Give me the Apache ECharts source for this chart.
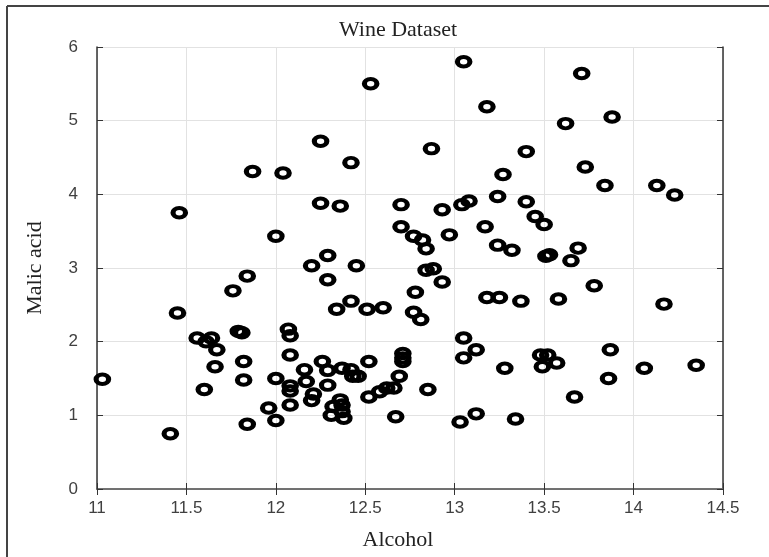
<!DOCTYPE html>
<html>
<head>
<meta charset="utf-8">
<script src="https://cdn.jsdelivr.net/npm/echarts@6/dist/echarts.min.js"></script>
<style>
html,body{margin:0;padding:0;background:#fff;}
#chart{width:769px;height:557px;}
</style>
</head>
<body>
<div id="chart"></div>
<script>
const chartTitle = 'Wine Dataset';
const xLabel = 'Alcohol';
const yLabel = 'Malic acid';
const xTicks = [11, 11.5, 12, 12.5, 13, 13.5, 14, 14.5];
const yTicks = [0, 1, 2, 3, 4, 5, 6];

// Alcohol values
const alcohol = [
  12.53,12.25,12.42,11.87,12.04,12.25,12.36,11.46,12.00,12.29,12.20,12.45,11.84,12.29,
  13.05,13.71,13.18,13.62,13.88,12.87,13.40,13.27,13.73,13.84,14.13,14.23,
  12.70,12.93,13.04,13.08,13.24,13.40,13.45,13.50,12.70,12.77,12.82,12.84,12.97,13.17,13.24,13.32,13.51,13.53,13.65,13.69,12.84,12.88,12.93,
  12.78,12.60,12.77,12.81,13.18,13.25,13.37,13.58,13.78,14.17,
  13.05,13.12,13.05,12.71,12.71,12.71,12.69,12.62,12.66,12.58,12.85,12.67,13.03,13.12,13.34,13.28,13.48,13.52,13.49,13.57,13.67,13.87,13.86,14.06,14.35,
  11.03,11.41,11.45,11.76,11.56,11.61,11.64,11.67,11.66,11.60,11.79,11.81,11.82,11.82,11.84,11.96,12.00,12.00,12.07,12.08,12.08,12.08,12.08,12.08,
  12.16,12.17,12.21,12.20,12.26,12.29,12.29,12.34,12.42,12.51,12.37,12.42,12.43,12.46,12.52,12.52,12.32,12.31,12.36,12.37,12.37,12.38
];
// Malic acid values
const malicAcid = [
  5.50,4.72,4.43,4.31,4.29,3.88,3.84,3.75,3.43,3.17,3.03,3.03,2.89,2.84,
  5.80,5.64,5.19,4.96,5.05,4.62,4.58,4.27,4.37,4.12,4.12,3.99,
  3.86,3.79,3.86,3.91,3.97,3.90,3.70,3.59,3.56,3.43,3.38,3.26,3.45,3.56,3.31,3.24,3.16,3.18,3.10,3.27,2.97,2.99,2.81,
  2.67,2.46,2.40,2.30,2.60,2.60,2.55,2.58,2.76,2.51,
  2.05,1.89,1.78,1.84,1.78,1.73,1.53,1.37,1.37,1.32,1.35,0.98,0.91,1.02,0.95,1.64,1.82,1.82,1.66,1.71,1.25,1.89,1.50,1.64,1.68,
  1.49,0.75,2.39,2.69,2.05,2.00,2.05,1.89,1.66,1.35,2.14,2.12,1.73,1.48,0.88,1.10,1.50,0.93,2.17,2.08,1.82,1.40,1.33,1.14,
  1.62,1.46,1.29,1.20,1.73,1.61,1.41,2.44,2.55,2.44,1.64,1.62,1.53,1.53,1.73,1.25,1.12,1.00,1.21,1.14,1.05,0.96
];

const points = alcohol.map((a, i) => [a, malicAcid[i]]);

const chart = echarts.init(document.getElementById('chart'), null, {renderer: 'canvas'});
const labelFont = {fontFamily: 'Liberation Sans', fontSize: 17, color: '#404040'};
const serif = 'Liberation Serif';

chart.setOption({
  animation: false,
  backgroundColor: '#fff',
  title: [
    {text: chartTitle, left: 393, top: 14, textAlign: 'center',
     textStyle: {fontFamily: serif, fontSize: 22, fontWeight: 'normal', color: '#222'}},
    {text: xLabel, left: 393, top: 524, textAlign: 'center',
     textStyle: {fontFamily: serif, fontSize: 22, fontWeight: 'normal', color: '#222'}}
  ],
  graphic: [
    {type: 'line', shape: {x1: 7, y1: 6, x2: 769, y2: 6}, style: {stroke: '#444', lineWidth: 2}, silent: true},
    {type: 'line', shape: {x1: 7, y1: 6, x2: 7, y2: 557}, style: {stroke: '#444', lineWidth: 2}, silent: true}
  ],
  grid: {left: 97, right: 46, top: 47, bottom: 68},
  xAxis: [
    {type: 'value', min: xTicks[0], max: xTicks[xTicks.length - 1], interval: 0.5,
     axisLine: {show: true, lineStyle: {color: '#333', width: 1.5}},
     axisTick: {show: true, inside: true, length: 6, lineStyle: {color: '#333'}},
     axisLabel: Object.assign({margin: 11}, labelFont),
     splitLine: {show: true, lineStyle: {color: '#e2e2e2', width: 1}}},
    {type: 'value', position: 'top', min: xTicks[0], max: xTicks[xTicks.length - 1], interval: 0.5,
     axisLine: {show: true, lineStyle: {color: '#777', width: 1.5}},
     axisTick: {show: true, inside: true, length: 6, lineStyle: {color: '#333'}},
     axisLabel: {show: false}, splitLine: {show: false}}
  ],
  yAxis: [
    {type: 'value', min: yTicks[0], max: yTicks[yTicks.length - 1], interval: 1,
     name: yLabel, nameLocation: 'middle', nameGap: 51, nameRotate: 90,
     nameTextStyle: {fontFamily: serif, fontSize: 22, color: '#222'},
     axisLine: {show: true, lineStyle: {color: '#333', width: 1.5}},
     axisTick: {show: true, inside: true, length: 6, lineStyle: {color: '#333'}},
     axisLabel: Object.assign({margin: 19}, labelFont),
     splitLine: {show: true, lineStyle: {color: '#e2e2e2', width: 1}}},
    {type: 'value', position: 'right', min: yTicks[0], max: yTicks[yTicks.length - 1], interval: 1,
     axisLine: {show: true, lineStyle: {color: '#333', width: 1.5}},
     axisTick: {show: true, inside: true, length: 6, lineStyle: {color: '#333'}},
     axisLabel: {show: false}, splitLine: {show: false}}
  ],
  series: [{
    type: 'scatter',
    xAxisIndex: 0, yAxisIndex: 0,
    data: points,
    symbol: 'circle',
    symbolSize: [12.5, 9.5],
    itemStyle: {color: 'rgba(0,0,0,0)', borderColor: '#000', borderWidth: 4.5, opacity: 1},
    emphasis: {disabled: true}
  }]
});
</script>
</body>
</html>
